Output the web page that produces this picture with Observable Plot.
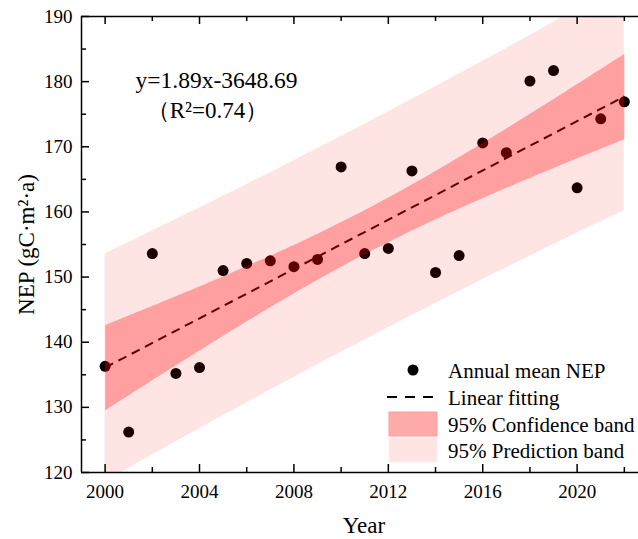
<!DOCTYPE html>
<html><head><meta charset="utf-8">
<script src="https://cdn.jsdelivr.net/npm/d3@7"></script>
<script src="https://cdn.jsdelivr.net/npm/@observablehq/plot@0.6"></script>
<style>body{margin:0;background:#fff;} #chart{width:638px;height:539px;}</style>
</head><body><div id="chart"></div>
<script>
const years = [2000,2001,2002,2003,2004,2005,2006,2007,2008,2009,2010,2011,2012,2013,2014,2015,2016,2017,2018,2019,2020,2021,2022];
const nep = [136.3,126.2,153.6,135.2,136.1,151.0,152.1,152.5,151.6,152.7,166.9,153.6,154.4,166.3,150.7,153.3,170.6,169.1,180.1,181.7,163.7,174.3,176.9];
const xTicksMajor = [2000,2004,2008,2012,2016,2020];
const xTicksMinor = [2002,2006,2010,2014,2018,2022];
const yTicksMajor = [120,130,140,150,160,170,180,190];
const yTicksMinor = [125,135,145,155,165,175,185];
const equationText = "y=1.89x-3648.69";
const r2Text = "（R²=0.74）";
const yTitle = "NEP (gC·m²·a)";
const xTitle = "Year";
const legendLabels = ["Annual mean NEP","Linear fitting","95% Confidence band","95% Prediction band"];

const data = years.map((year, i) => ({year, nep: nep[i]}));

// 95% prediction band of the least-squares fit, evaluated at the data years
const n = data.length;
const mx = d3.mean(years), my = d3.mean(nep);
const sxx = d3.sum(years, x => (x - mx) ** 2);
const sxy = d3.sum(data, d => (d.year - mx) * (d.nep - my));
const slope = sxy / sxx, intercept = my - slope * mx;
const se = Math.sqrt(d3.sum(data, d => (d.nep - (intercept + slope * d.year)) ** 2) / (n - 2));
const t975 = 2.0796; // df = 21
const pred = years.map(x => {
  const yh = intercept + slope * x;
  const h = t975 * se * Math.sqrt(1 + 1 / n + (x - mx) ** 2 / sxx);
  return {year: x, lo: yh - h, hi: yh + h};
});

const W = 638, H = 539, mL = 81, mT = 16, mB = 67, mR = 0;
const plotH = H - mT - mB, plotW = W - mL - mR;
const serif = "'Liberation Serif','Times New Roman',serif";

const chart = Plot.plot({
  width: W, height: H,
  marginLeft: mL, marginRight: mR, marginTop: mT, marginBottom: mB,
  style: {fontFamily: serif, background: "#fff", color: "#000", overflow: "visible"},
  x: {domain: [1999, 2022.6]},
  y: {domain: [120, 190]},
  marks: [
    Plot.dot(data, {x: "year", y: "nep", r: 5.5, fill: "#000", stroke: "none"}),
    Plot.linearRegressionY(data, {x: "year", y: "nep", ci: 0, stroke: "#000", strokeWidth: 2, strokeDasharray: "9,6", strokeLinecap: "butt"}),
    Plot.areaY(pred, {x: "year", y1: "lo", y2: "hi", fill: "red", fillOpacity: 0.106, clip: true}),
    Plot.linearRegressionY(data, {x: "year", y: "nep", ci: 0.95, stroke: "none", fill: "red", fillOpacity: 0.3, clip: true}),
    Plot.ruleY([120, 190], {stroke: "#000", strokeWidth: 1.5}),
    Plot.ruleX([1999], {stroke: "#000", strokeWidth: 1.5}),
    Plot.ruleX(xTicksMajor, {x: d => d, insetTop: plotH - 8, stroke: "#000", strokeWidth: 1.5}),
    Plot.ruleX(xTicksMinor, {x: d => d, insetTop: plotH - 5, stroke: "#000", strokeWidth: 1.5}),
    Plot.ruleX(xTicksMajor, {x: d => d, insetBottom: plotH - 8, stroke: "#000", strokeWidth: 1.5}),
    Plot.ruleX(xTicksMinor, {x: d => d, insetBottom: plotH - 5, stroke: "#000", strokeWidth: 1.5}),
    Plot.ruleY(yTicksMajor, {y: d => d, insetRight: plotW - 8, stroke: "#000", strokeWidth: 1.5}),
    Plot.ruleY(yTicksMinor, {y: d => d, insetRight: plotW - 5, stroke: "#000", strokeWidth: 1.5}),
    Plot.axisX({ticks: xTicksMajor, tickSize: 0, tickPadding: 12, fontSize: 19, label: null, tickFormat: d => String(d), fill: "#000"}),
    Plot.axisY({ticks: yTicksMajor, tickSize: 0, tickPadding: 9, fontSize: 19, label: null, fill: "#000"}),
    Plot.text([equationText], {text: d => d, frameAnchor: "top-left", textAnchor: "start", lineAnchor: "bottom", dx: 54, dy: 71, fontSize: 23.5, fill: "#000"}),
    Plot.text([r2Text], {text: d => d, frameAnchor: "top-left", textAnchor: "middle", lineAnchor: "bottom", dx: 126, dy: 101, fontSize: 23, fill: "#000"}),
    Plot.text([yTitle], {text: d => d, frameAnchor: "left", textAnchor: "middle", rotate: -90, lineAnchor: "bottom", dx: -48, fontSize: 23, fill: "#000"}),
    Plot.text([xTitle], {text: d => d, frameAnchor: "bottom", textAnchor: "middle", lineAnchor: "bottom", dx: 4, dy: 60, fontSize: 23, fill: "#000"})
  ]
});

// legend drawn inside the plot area
const svg = d3.select(chart);
const lg = svg.append("g").attr("font-family", serif).attr("font-size", 21).attr("fill", "#000").attr("text-anchor", "start");
const rowY = [370, 397, 424, 450];
lg.append("circle").attr("cx", 413).attr("cy", rowY[0]).attr("r", 5.5).attr("fill", "#000");
lg.append("line").attr("x1", 387).attr("x2", 433).attr("y1", rowY[1]).attr("y2", rowY[1])
  .attr("stroke", "#000").attr("stroke-width", 2).attr("stroke-dasharray", "10,8");
lg.append("rect").attr("x", 389).attr("y", 412).attr("width", 48).attr("height", 24)
  .attr("fill", "#ffabab").attr("stroke", "#ff9c9c").attr("stroke-width", 1);
lg.append("rect").attr("x", 389).attr("y", 438).attr("width", 48).attr("height", 24)
  .attr("fill", "#ffe4e4").attr("stroke", "#fff0f0").attr("stroke-width", 1);
legendLabels.forEach((t, i) => {
  lg.append("text").attr("x", 448).attr("y", rowY[i] + 7.5).attr("text-anchor", "start").text(t);
});

document.getElementById("chart").appendChild(chart);
</script>
</body></html>
